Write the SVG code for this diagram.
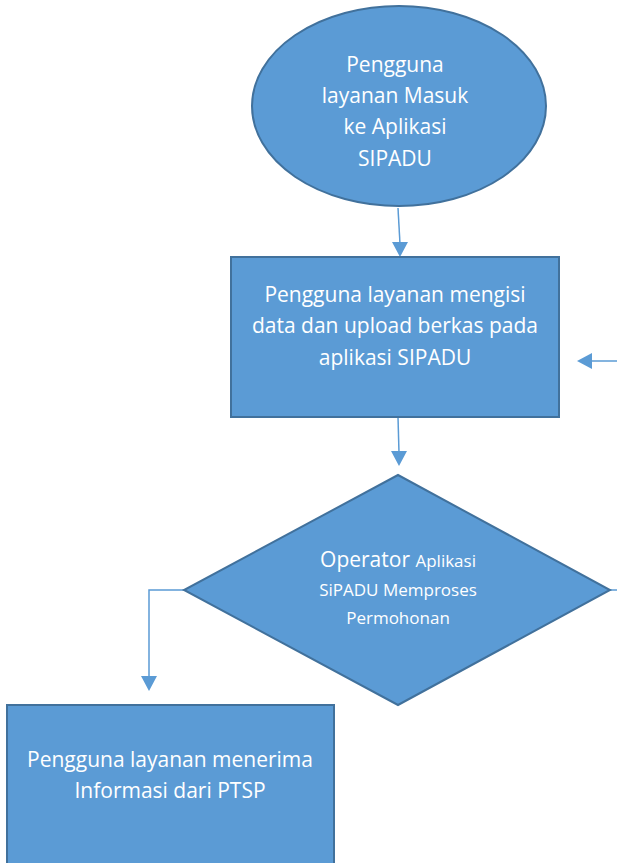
<svg xmlns="http://www.w3.org/2000/svg" width="617" height="863" viewBox="0 0 617 863">
  <style>
    .shape { fill: #5B9BD5; stroke: #41719C; stroke-width: 2; }
    .label { fill: #FFFFFF; font-family: "Open Sans", "Liberation Sans", sans-serif; font-size: 21px; text-anchor: middle; }
    .small { font-size: 17px; }
    .conn { fill: none; stroke: #5B9BD5; stroke-width: 1.5; }
    .head { fill: #5B9BD5; stroke: none; }
  </style>
  <rect width="617" height="863" fill="#FFFFFF"/>

  <g id="connectors">
    <!-- start -> input -->
    <line class="conn" x1="398" y1="208" x2="400" y2="244"/>
    <polygon class="head" points="392,242 408,242 400,257"/>
    <!-- loop-back entering input box from the right -->
    <line class="conn" x1="617" y1="361" x2="590" y2="361"/>
    <polygon class="head" points="592,353 592,369 577,361"/>
    <!-- input -> decision -->
    <line class="conn" x1="398" y1="417" x2="399" y2="453"/>
    <polygon class="head" points="391,451 407,451 399,466"/>
    <!-- decision right exit -->
    <line class="conn" x1="610" y1="590" x2="617" y2="590"/>
    <!-- decision -> result -->
    <polyline class="conn" points="184,590 149,590 149,678"/>
    <polygon class="head" points="141,676 157,676 149,691"/>
  </g>

  <g id="start">
    <ellipse class="shape" cx="399" cy="106" rx="147" ry="100"/>
    <text class="label" x="395" y="72">Pengguna</text>
    <text class="label" x="395" y="103">layanan Masuk</text>
    <text class="label" x="395" y="134">ke Aplikasi</text>
    <text class="label" x="395" y="166">SIPADU</text>
  </g>

  <g id="input">
    <rect class="shape" x="231" y="257" width="328" height="160"/>
    <text class="label" x="395" y="302">Pengguna layanan mengisi</text>
    <text class="label" x="395" y="333">data dan upload berkas pada</text>
    <text class="label" x="395" y="365">aplikasi SIPADU</text>
  </g>

  <g id="decision">
    <polygon class="shape" points="398,475 610,590 398,705 184,590"/>
    <text class="label" x="398" y="567">Operator <tspan class="small">Aplikasi</tspan></text>
    <text class="label small" x="398" y="596">SiPADU Memproses</text>
    <text class="label small" x="398" y="624">Permohonan</text>
  </g>

  <g id="result">
    <rect class="shape" x="7" y="705" width="327" height="170"/>
    <text class="label" x="170" y="767">Pengguna layanan menerima</text>
    <text class="label" x="170" y="798">Informasi dari PTSP</text>
  </g>
</svg>
